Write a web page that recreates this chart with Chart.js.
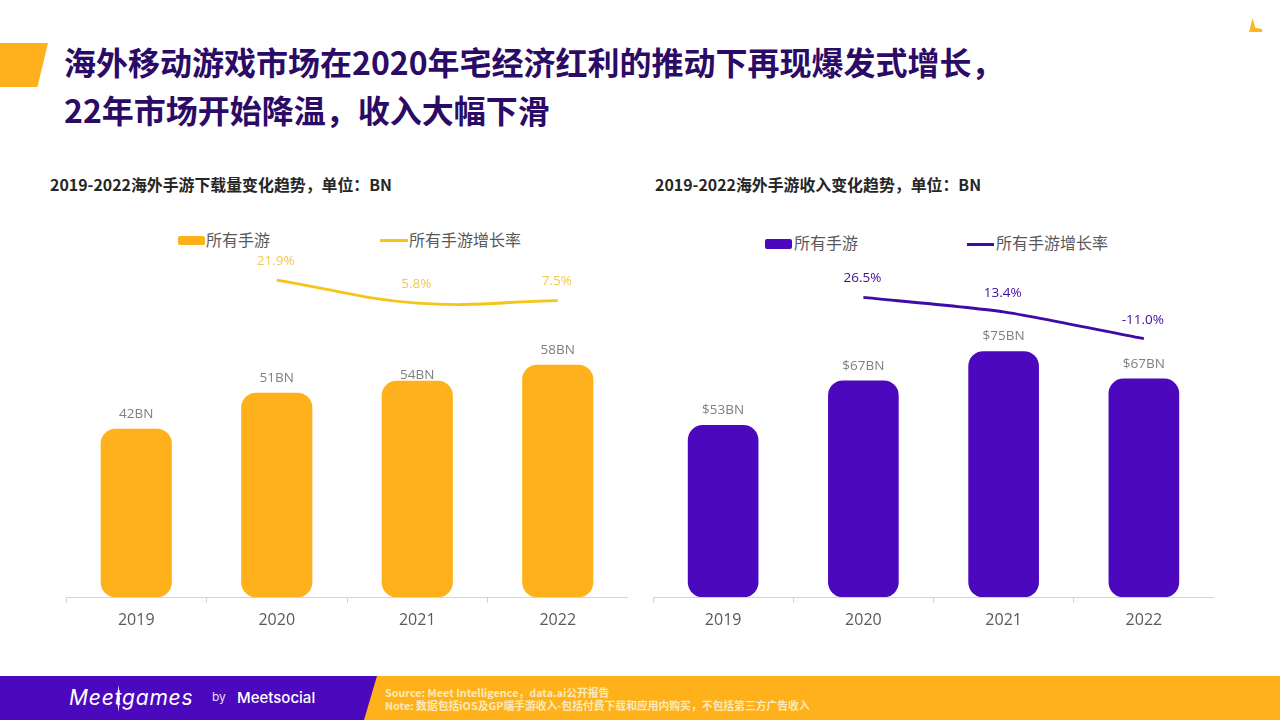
<!DOCTYPE html>
<html lang="zh-CN">
<head>
<meta charset="utf-8">
<script src="https://cdn.jsdelivr.net/npm/chart.js@4"></script>
<style>
html, body { margin: 0; padding: 0; background: #fff; }
body { width: 1280px; height: 720px; position: relative; overflow: hidden; font-family: "Noto Sans CJK SC", "Noto Sans", sans-serif; }
.abs { position: absolute; white-space: nowrap; }
canvas { position: absolute; }
.title { left: 64px; font-size: 32px; font-weight: 700; color: #2b0b66; line-height: 44px; }
.sub { top: 173px; font-size: 15.9px; font-weight: 700; color: #262626; line-height: 24px; }
.legend-text { font-size: 16px; color: #595959; line-height: 22px; }
.swatch { height: 9px; border-radius: 2px; }
.legline { height: 2.5px; }
.foot { left: 385px; font-size: 10.8px; font-weight: 700; color: #fbeab8; line-height: 12px; }
</style>
</head>
<body>
<div class="abs" style="left:0;top:43px;width:48px;height:44px;background:#ffb11b;clip-path:polygon(0 0,100% 0,78% 100%,0 100%)"></div>
<div class="abs" style="left:1249px;top:18px;width:13px;height:14px;background:#fdb71e;clip-path:polygon(28% 0,48% 70%,100% 78%,100% 100%,0 100%)"></div>
<div class="abs title" style="top:39px">海外移动游戏市场在2020年宅经济红利的推动下再现爆发式增长，</div>
<div class="abs title" style="top:87px">22年市场开始降温，收入大幅下滑</div>
<div class="abs sub" style="left:50px">2019-2022海外手游下载量变化趋势，单位：BN</div>
<div class="abs sub" style="left:655px">2019-2022海外手游收入变化趋势，单位：BN</div>

<div class="abs swatch" style="left:178px;top:236px;width:27px;background:#ffb11b"></div>
<div class="abs legend-text" style="left:206px;top:228px" id="legA1"></div>
<div class="abs legline" style="left:380px;top:239px;width:28px;background:#f5c518"></div>
<div class="abs legend-text" style="left:409px;top:228px" id="legA2"></div>
<div class="abs swatch" style="left:765px;top:239px;width:27px;height:10px;background:#4b08bc"></div>
<div class="abs legend-text" style="left:794px;top:231px" id="legB1"></div>
<div class="abs legline" style="left:967px;top:243px;width:27px;background:#3f0aa8"></div>
<div class="abs legend-text" style="left:996px;top:231px" id="legB2"></div>

<canvas id="downloads" width="562" height="400" style="left:66px;top:240px"></canvas>
<canvas id="revenue" width="561" height="400" style="left:653px;top:240px"></canvas>

<div class="abs" style="left:0;top:676px;width:1280px;height:44px;background:#4b08bc"></div>
<div class="abs" style="left:364px;top:676px;width:916px;height:44px;background:#ffb11b;clip-path:polygon(13px 0,100% 0,100% 100%,0 100%)"></div>
<div class="abs" style="left:69px;top:683px;font:italic 400 21px Inter,sans-serif;color:#fff;line-height:30px;letter-spacing:.8px">Meetgames</div>
<div class="abs" style="left:117px;top:685px;width:3px;height:27px;background:#fff;clip-path:polygon(50% 0,100% 50%,50% 100%,0 50%)"></div>
<div class="abs" style="left:212px;top:689px;font:400 12px Inter,sans-serif;color:#e6dcf8;line-height:16px">by</div>
<div class="abs" style="left:237px;top:687px;font:500 15px Inter,sans-serif;color:#fff;line-height:22px">Meetsocial</div>
<div class="abs foot" style="top:686px">Source: Meet Intelligence，data.ai公开报告</div>
<div class="abs foot" style="top:699px">Note: 数据包括iOS及GP端手游收入-包括付费下载和应用内购买，不包括第三方广告收入</div>

<script>
const years = ['2019', '2020', '2021', '2022'];
const barName = '所有手游';
const lineName = '所有手游增长率';

const downloadValues = [42, 51, 54, 58];
const downloadLabels = ['42BN', '51BN', '54BN', '58BN'];
const downloadGrowth = [null, 21.9, 5.8, 7.5];
const downloadGrowthLabels = ['', '21.9%', '5.8%', '7.5%'];

const revenueValues = [52.8, 66.5, 75.5, 67.1];
const revenueLabels = ['$53BN', '$67BN', '$75BN', '$67BN'];
const revenueGrowth = [null, 26.5, 13.4, -11.0];
const revenueGrowthLabels = ['', '26.5%', '13.4%', '-11.0%'];

document.getElementById('legA1').textContent = barName;
document.getElementById('legA2').textContent = lineName;
document.getElementById('legB1').textContent = barName;
document.getElementById('legB2').textContent = lineName;

// Text above the bars and the line points
const valueLabels = {
    id: 'valueLabels',
    afterDatasetsDraw(chart, args, opts) {
        const c = chart.ctx;
        c.save();
        c.textAlign = 'center';
        c.textBaseline = 'middle';
        c.font = '13.5px "Open Sans", "Noto Sans", sans-serif';
        c.fillStyle = '#7f7f7f';
        chart.getDatasetMeta(0).data.forEach((bar, i) => {
            c.fillText(opts.barText[i], bar.x, bar.y - 15 + opts.barNudge[i]);
        });
        c.fillStyle = opts.lineColor;
        chart.getDatasetMeta(1).data.forEach((pt, i) => {
            if (opts.lineText[i]) c.fillText(opts.lineText[i], pt.x - 1, pt.y - 19);
        });
        c.restore();
    }
};

function makeChart(id, values, growth, barColor, lineColor, barWidth, curve, yMax, rateMin, rateMax, labelOpts) {
    return new Chart(document.getElementById(id), {
        type: 'bar',
        data: {
            labels: years,
            datasets: [
                {
                    label: barName,
                    data: values,
                    backgroundColor: barColor,
                    barThickness: barWidth,
                    borderRadius: 15,
                    borderSkipped: false,
                    order: 1
                },
                {
                    type: 'line',
                    label: lineName,
                    data: growth,
                    yAxisID: 'yRate',
                    borderColor: lineColor,
                    borderWidth: 2.8,
                    pointRadius: 0,
                    tension: curve,
                    order: 0
                }
            ]
        },
        options: {
            responsive: false,
            animation: false,
            layout: { padding: 0 },
            plugins: {
                legend: { display: false },
                tooltip: { enabled: false },
                valueLabels: labelOpts
            },
            scales: {
                x: {
                    offset: true,
                    border: { color: '#d4d4d4' },
                    grid: { drawOnChartArea: false, color: '#d4d4d4', tickLength: 6, offset: true },
                    ticks: { color: '#595959', font: { size: 16, family: '"Open Sans", "Noto Sans", sans-serif' }, padding: 8, maxRotation: 0 },
                    afterFit(scale) { scale.height = 43; }
                },
                y: { display: false, min: 0, max: yMax },
                yRate: { display: false, position: 'right', min: rateMin, max: rateMax }
            }
        },
        plugins: [valueLabels]
    });
}

makeChart('downloads', downloadValues, downloadGrowth, '#ffb11b', '#f5c518', 70.5, 0.4, 89.25, -199.8, 49.9, {
    barText: downloadLabels, barNudge: [0, 0, 9, 0], lineText: downloadGrowthLabels, lineColor: '#efc94f'
});
makeChart('revenue', revenueValues, revenueGrowth, '#4b08bc', '#3f0aa8', 70, 0.2, 109.8, -245.8, 78.7, {
    barText: revenueLabels, barNudge: [0, 0, 0, 0], lineText: revenueGrowthLabels, lineColor: '#3f0a9c'
});
</script>
</body>
</html>
